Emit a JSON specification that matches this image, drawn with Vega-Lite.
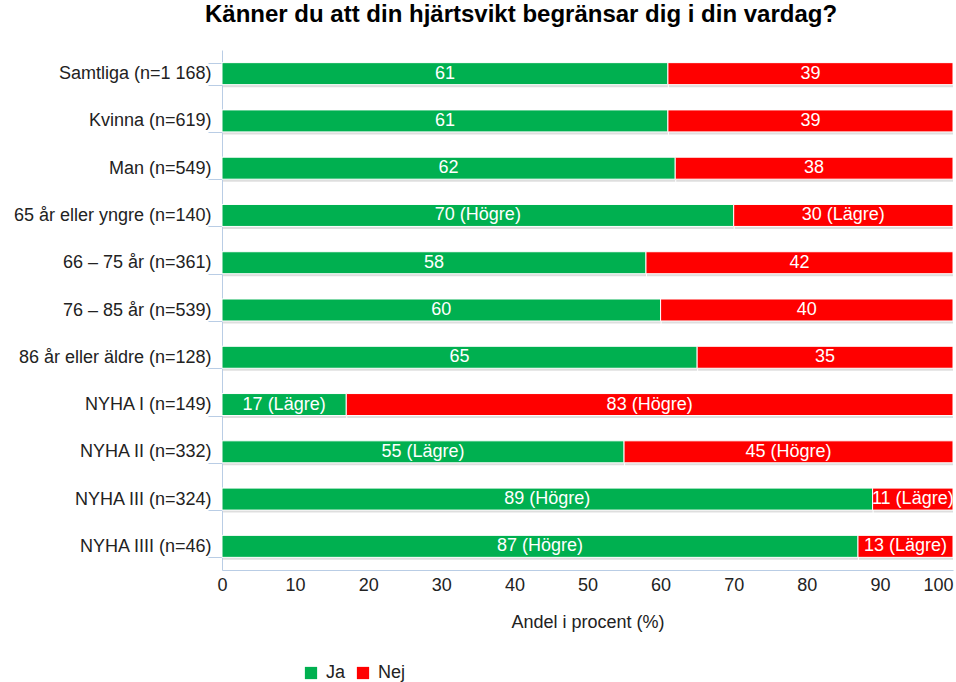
{
  "$schema": "https://vega.github.io/schema/vega-lite/v6.json",
  "width": 731,
  "height": 520,
  "autosize": {"type": "none"},
  "padding": {"left": 222, "top": 50, "right": 3, "bottom": 112},
  "background": "white",
  "title": {
    "text": "Känner du att din hjärtsvikt begränsar dig i din vardag?",
    "fontSize": 24,
    "fontWeight": "bold",
    "color": "#000000",
    "anchor": "start",
    "frame": "group",
    "dx": -17,
    "offset": 14
  },
  "data": {
    "values": [
      {"group": "Samtliga (n=1 168)", "answer": "Ja", "order": 1, "value": 61, "label": "61"},
      {"group": "Samtliga (n=1 168)", "answer": "Nej", "order": 2, "value": 39, "label": "39"},
      {"group": "Kvinna (n=619)", "answer": "Ja", "order": 1, "value": 61, "label": "61"},
      {"group": "Kvinna (n=619)", "answer": "Nej", "order": 2, "value": 39, "label": "39"},
      {"group": "Man (n=549)", "answer": "Ja", "order": 1, "value": 62, "label": "62"},
      {"group": "Man (n=549)", "answer": "Nej", "order": 2, "value": 38, "label": "38"},
      {"group": "65 år eller yngre (n=140)", "answer": "Ja", "order": 1, "value": 70, "label": "70 (Högre)"},
      {"group": "65 år eller yngre (n=140)", "answer": "Nej", "order": 2, "value": 30, "label": "30 (Lägre)"},
      {"group": "66 – 75 år (n=361)", "answer": "Ja", "order": 1, "value": 58, "label": "58"},
      {"group": "66 – 75 år (n=361)", "answer": "Nej", "order": 2, "value": 42, "label": "42"},
      {"group": "76 – 85 år (n=539)", "answer": "Ja", "order": 1, "value": 60, "label": "60"},
      {"group": "76 – 85 år (n=539)", "answer": "Nej", "order": 2, "value": 40, "label": "40"},
      {"group": "86 år eller äldre (n=128)", "answer": "Ja", "order": 1, "value": 65, "label": "65"},
      {"group": "86 år eller äldre (n=128)", "answer": "Nej", "order": 2, "value": 35, "label": "35"},
      {"group": "NYHA I (n=149)", "answer": "Ja", "order": 1, "value": 17, "label": "17 (Lägre)"},
      {"group": "NYHA I (n=149)", "answer": "Nej", "order": 2, "value": 83, "label": "83 (Högre)"},
      {"group": "NYHA II (n=332)", "answer": "Ja", "order": 1, "value": 55, "label": "55 (Lägre)"},
      {"group": "NYHA II (n=332)", "answer": "Nej", "order": 2, "value": 45, "label": "45 (Högre)"},
      {"group": "NYHA III (n=324)", "answer": "Ja", "order": 1, "value": 89, "label": "89 (Högre)"},
      {"group": "NYHA III (n=324)", "answer": "Nej", "order": 2, "value": 11, "label": "11 (Lägre)"},
      {"group": "NYHA IIII (n=46)", "answer": "Ja", "order": 1, "value": 87, "label": "87 (Högre)"},
      {"group": "NYHA IIII (n=46)", "answer": "Nej", "order": 2, "value": 13, "label": "13 (Lägre)"}
    ]
  },
  "transform": [
    {"stack": "value", "groupby": ["group"], "sort": [{"field": "order", "order": "ascending"}], "as": ["v0", "v1"]},
    {"calculate": "(datum.v0 + datum.v1) / 2", "as": "mid"}
  ],
  "encoding": {
    "y": {
      "field": "group",
      "type": "nominal",
      "sort": null,
      "scale": {"paddingInner": 0.535, "paddingOuter": 0.2675},
      "axis": {
        "title": null,
        "tickBand": "extent",
        "tickSize": 14,
        "tickColor": "#B9CDE5",
        "domainColor": "#B9CDE5",
        "labelFontSize": 18,
        "labelColor": "#222222",
        "labelPadding": -3,
        "labelLimit": 400
      }
    }
  },
  "layer": [
    {
      "mark": {"type": "bar", "color": "#000000", "opacity": 0.13, "yOffset": 2.5, "xOffset": 1},
      "encoding": {
        "x": {"field": "v0", "type": "quantitative", "scale": {"domain": [0, 100]}},
        "x2": {"field": "v1"}
      }
    },
    {
      "mark": {"type": "bar", "stroke": "white", "strokeWidth": 1},
      "encoding": {
        "x": {
          "field": "v0",
          "type": "quantitative",
          "scale": {"domain": [0, 100]},
          "axis": {
            "title": "Andel i procent (%)",
            "values": [0, 10, 20, 30, 40, 50, 60, 70, 80, 90, 100],
            "ticks": false,
            "grid": false,
            "domainColor": "#B9CDE5",
            "labelFontSize": 18,
            "labelColor": "#222222",
            "labelPadding": 6,
            "labelAlign": {"condition": {"test": "datum.value == 100", "value": "right"}, "value": "center"},
            "titleFontSize": 18,
            "titleFontWeight": "normal",
            "titleColor": "#222222",
            "titlePadding": 19
          }
        },
        "x2": {"field": "v1"},
        "color": {
          "field": "answer",
          "type": "nominal",
          "scale": {"domain": ["Ja", "Nej"], "range": ["#00B050", "#FF0000"]},
          "legend": {
            "title": null,
            "orient": "none",
            "legendX": 80,
            "legendY": 614,
            "direction": "horizontal",
            "symbolType": "square",
            "symbolSize": 150,
            "symbolStrokeWidth": 0,
            "labelFontSize": 18,
            "labelColor": "#222222",
            "labelOffset": 6,
            "columnPadding": 8
          }
        }
      }
    },
    {
      "mark": {"type": "text", "color": "white", "fontSize": 18, "align": "center", "baseline": "middle"},
      "encoding": {
        "x": {"field": "mid", "type": "quantitative"},
        "text": {"field": "label"}
      }
    }
  ],
  "config": {
    "font": "Liberation Sans",
    "view": {"stroke": null}
  }
}
